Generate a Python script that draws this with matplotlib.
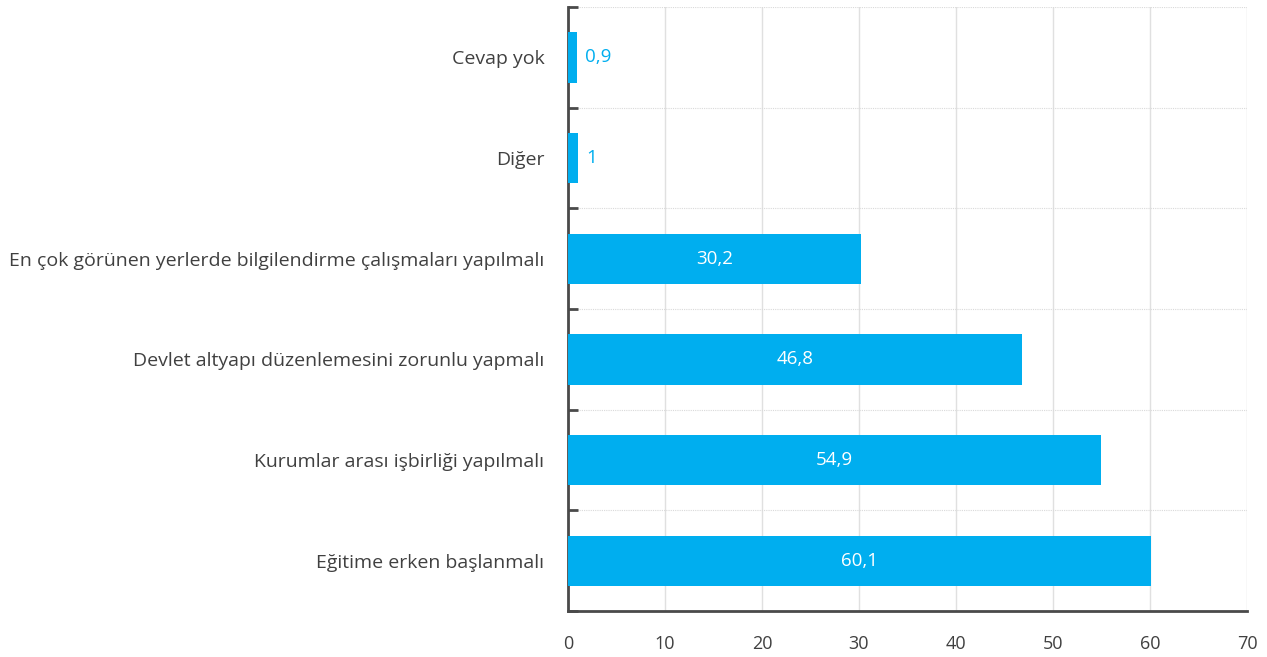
import numpy as np
import matplotlib
matplotlib.use("Agg")
import matplotlib.pyplot as plt

categories = ["Eğitime erken başlanmalı",
              "Kurumlar arası işbirliği yapılmalı",
              "Devlet altyapı düzenlemesini zorunlu yapmalı",
              "En çok görünen yerlerde bilgilendirme çalışmaları yapılmalı",
              "Diğer",
              "Cevap yok"]
values = [60.1, 54.9, 46.8, 30.2, 1.0, 0.9]
value_labels = ["60,1", "54,9", "46,8", "30,2", "1", "0,9"]
xticks = [0, 10, 20, 30, 40, 50, 60, 70]

BLUE = "#00aeef"
TXT = "#404040"
plt.rcParams["font.family"] = ["Open Sans", "DejaVu Sans"]

fig = plt.figure(figsize=(12.67, 6.57), dpi=100)
ax = fig.add_axes([0.4483, 0.070, 0.5359, 0.9193])

y = np.arange(len(categories))
ax.barh(y, values, height=0.5, color=BLUE, zorder=3)

for yi, v, lab in zip(y, values, value_labels):
    if v > 10:
        ax.text(v / 2, yi, lab, ha="center", va="center", color="white",
                fontsize=13.5, zorder=4)
    else:
        ax.text(v + 0.9, yi, lab, ha="left", va="center", color=BLUE,
                fontsize=13.5, zorder=4)

ax.set_xlim(0, 70)
ax.set_ylim(-0.5, len(categories) - 0.5)
ax.set_xticks(xticks)
ax.set_xticklabels([str(t) for t in xticks], color=TXT, fontsize=13)
ax.set_yticks(y)
ax.set_yticklabels(categories, color=TXT, fontsize=14)
ax.tick_params(axis="y", which="major", length=0, pad=17)
ax.tick_params(axis="x", which="major", length=0, pad=17)

# category boundaries
ax.set_yticks(np.arange(-0.5, len(categories), 1.0), minor=True)
ax.tick_params(axis="y", which="minor", direction="in", length=7, width=2,
               color="#4a4a4a")
ax.grid(axis="y", which="minor", color="#d9d9d9", linestyle=(0, (1, 1)),
        linewidth=0.8, zorder=0)
ax.grid(axis="x", which="major", color="#e0e0e0", linewidth=1, zorder=0)

for s in ["top", "right"]:
    ax.spines[s].set_visible(False)
for s in ["left", "bottom"]:
    ax.spines[s].set_color("#4a4a4a")
    ax.spines[s].set_linewidth(2)

fig.savefig("out.png", dpi=100)
